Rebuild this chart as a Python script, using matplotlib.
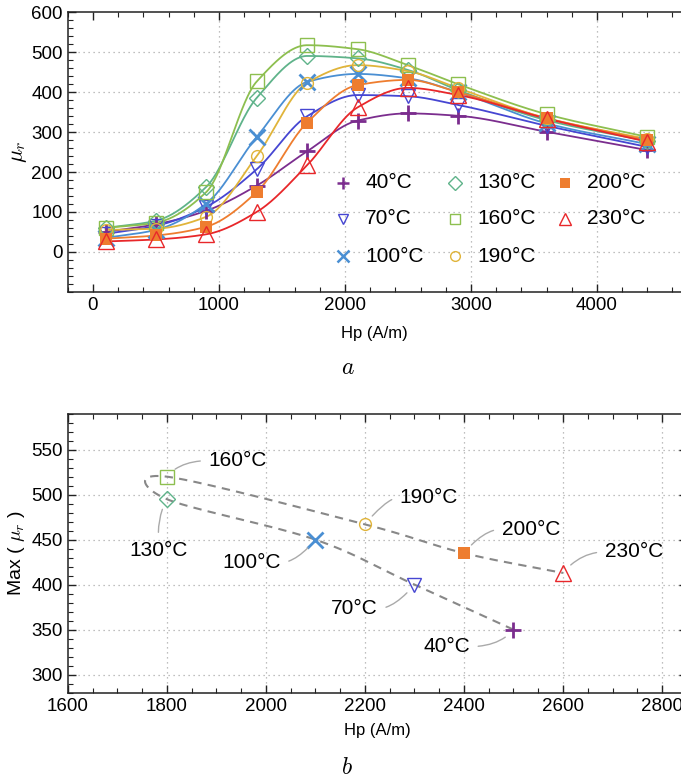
import numpy as np
import matplotlib
matplotlib.use("Agg")
import matplotlib.pyplot as plt
from matplotlib.ticker import MultipleLocator, FixedLocator

plt.rcParams["font.family"] = ["Liberation Sans", "DejaVu Sans"]
plt.rcParams["mathtext.fontset"] = "cm"

# permeability vs. pinning field, one series per temperature
hp = [100, 500, 900, 1300, 1700, 2100, 2500, 2900, 3600, 4400]
mu_40 = [50, 69, 103, 166, 252, 329, 347, 341, 301, 255]
mu_70 = [45, 65, 113, 207, 340, 393, 390, 368, 316, 263]
mu_100 = [35, 55, 121, 288, 426, 446, 435, 400, 322, 270]
mu_130 = [60, 78, 163, 386, 491, 485, 456, 405, 330, 278]
mu_160 = [60, 73, 150, 427, 518, 508, 468, 420, 345, 288]
mu_190 = [55, 58, 88, 240, 424, 468, 453, 410, 335, 283]
mu_200 = [33, 41, 63, 150, 324, 418, 431, 400, 335, 280]
mu_230 = [26, 31, 44, 100, 217, 362, 411, 393, 334, 276]

temps = ["40°C", "70°C", "100°C", "130°C", "160°C", "190°C", "200°C", "230°C"]
series = [mu_40, mu_70, mu_100, mu_130, mu_160, mu_190, mu_200, mu_230]

# peak position and peak value per temperature
peak_hp = [2500, 2300, 2100, 1800, 1800, 2200, 2400, 2600]
peak_mu = [350, 400, 450, 495, 520, 467, 435, 413]

colors = ["#7b2d8e", "#4646d2", "#4a8fd3", "#5fb38a", "#8dbf4f",
          "#e0b43a", "#ee7d2f", "#e8272a"]
markers = ["+", "v", "x", "D", "s", "o", "s", "^"]
filled = [True, False, True, False, False, False, True, False]
msizes = [11, 10, 11, 8.5, 9.5, 8.5, 8.5, 11]


def pchip(x, y, xs):
    # monotone cubic Hermite through the measured points
    x = np.asarray(x, float)
    y = np.asarray(y, float)
    h = np.diff(x)
    d = np.diff(y) / h
    m = np.zeros_like(y)
    for k in range(1, len(x) - 1):
        if d[k - 1] * d[k] > 0:
            w1 = 2 * h[k] + h[k - 1]
            w2 = h[k] + 2 * h[k - 1]
            m[k] = (w1 + w2) / (w1 / d[k - 1] + w2 / d[k])
    m[0] = d[0]
    m[-1] = d[-1]
    idx = np.clip(np.searchsorted(x, xs) - 1, 0, len(h) - 1)
    t = (xs - x[idx]) / h[idx]
    h00 = 2 * t**3 - 3 * t**2 + 1
    h10 = t**3 - 2 * t**2 + t
    h01 = -2 * t**3 + 3 * t**2
    h11 = t**3 - t**2
    return (h00 * y[idx] + h10 * h[idx] * m[idx]
            + h01 * y[idx + 1] + h11 * h[idx] * m[idx + 1])


def catmull_rom(px, py, n=60):
    px = np.asarray(px, float)
    py = np.asarray(py, float)
    P = np.column_stack([px, py])
    P = np.vstack([2 * P[0] - P[1], P, 2 * P[-1] - P[-2]])
    out = []
    t = np.linspace(0, 1, n)[:, None]
    for i in range(1, len(P) - 2):
        p0, p1 = P[i], P[i + 1]
        m0 = (P[i + 1] - P[i - 1]) / 2
        m1 = (P[i + 2] - P[i]) / 2
        seg = ((2 * t**3 - 3 * t**2 + 1) * p0 + (t**3 - 2 * t**2 + t) * m0
               + (-2 * t**3 + 3 * t**2) * p1 + (t**3 - t**2) * m1)
        out.append(seg)
    c = np.vstack(out)
    return c[:, 0], c[:, 1]


def style_axes(ax):
    ax.tick_params(which="both", direction="in", top=True, right=True,
                   labelsize=13.5, color="#222222")
    ax.tick_params(which="major", length=6, width=1.0)
    ax.tick_params(which="minor", length=3.5, width=0.8)
    for s in ax.spines.values():
        s.set_linewidth(1.1)
        s.set_color("#222222")


def draw_marker(ax, x, y, i, ms=None, **kw):
    ms = msizes[i] if ms is None else ms
    if markers[i] in ("+", "x"):
        ax.plot(x, y, ls="none", marker=markers[i], ms=ms, mew=2.0,
                color=colors[i], **kw)
    elif filled[i]:
        ax.plot(x, y, ls="none", marker=markers[i], ms=ms, mew=0,
                color=colors[i], **kw)
    else:
        ax.plot(x, y, ls="none", marker=markers[i], ms=ms, mew=1.0,
                mfc="none", mec=colors[i], **kw)


fig = plt.figure(figsize=(6.81, 7.80), dpi=100)

# ---- top panel ----
ax1 = fig.add_axes([0.0995, 0.626, 0.925, 0.358])
xs = np.linspace(hp[0], hp[-1], 600)
for i, vals in enumerate(series):
    ax1.plot(xs, pchip(hp, vals, xs), color=colors[i], lw=1.3, zorder=2)
for i, vals in enumerate(series):
    draw_marker(ax1, hp, vals, i, zorder=3)

ax1.set_xlim(-200, 4800)
ax1.set_ylim(-100, 600)
ax1.xaxis.set_major_locator(MultipleLocator(1000))
ax1.xaxis.set_minor_locator(MultipleLocator(200))
ax1.yaxis.set_major_locator(FixedLocator([0, 100, 200, 300, 400, 500, 600]))
ax1.yaxis.set_minor_locator(MultipleLocator(20))
style_axes(ax1)
for gx in [1000, 2000, 3000, 4000]:
    ax1.axvline(gx, color="#aaaaaa", lw=0.9, ls=(0, (1, 3)), zorder=1)
for gy in [0, 100, 200, 300, 400, 500]:
    ax1.axhline(gy, color="#aaaaaa", lw=0.9, ls=(0, (1, 3)), zorder=1)
ax1.set_ylabel(r"$\mu_r$", fontsize=16, labelpad=2)

# legend in three columns inside the plot
leg_cols = [343, 455, 565]
leg_rows = [183, 219, 256]
for i, t in enumerate(temps):
    col, row = divmod(i, 3)
    fx = leg_cols[col] / 681
    fy = 1 - leg_rows[row] / 780
    mk = markers[i]
    if mk in ("+", "x"):
        fig.lines.append(plt.Line2D([fx], [fy], transform=fig.transFigure,
                                    marker=mk, ms=8, mew=1.8,
                                    color=colors[i], ls="none"))
    elif filled[i]:
        fig.lines.append(plt.Line2D([fx], [fy], transform=fig.transFigure,
                                    marker=mk, ms=7, mew=0,
                                    color=colors[i], ls="none"))
    else:
        fig.lines.append(plt.Line2D([fx], [fy], transform=fig.transFigure,
                                    marker=mk, ms=7 if mk != "^" else 8,
                                    mew=1.0, mfc="none", mec=colors[i],
                                    ls="none"))
    fig.text(fx + 22 / 681, fy, t, fontsize=15, va="center", ha="left")

fig.text(374 / 681, 1 - 333 / 780, "Hp (A/m)", fontsize=12,
         ha="center", va="center")
fig.text(348 / 681, 1 - 368 / 780, r"$a$", fontsize=17,
         ha="center", va="center")

# ---- bottom panel ----
ax2 = fig.add_axes([0.0995, 0.112, 0.909, 0.3577])
cx, cy = catmull_rom(peak_hp, peak_mu)
ax2.plot(cx, cy, color="#888888", lw=1.5, ls=(0, (4, 3)), zorder=2)
for i in range(len(temps)):
    draw_marker(ax2, peak_hp[i], peak_mu[i], i, zorder=3)

ax2.set_xlim(1600, 2850)
ax2.set_ylim(280, 590)
ax2.xaxis.set_major_locator(MultipleLocator(200))
ax2.xaxis.set_minor_locator(MultipleLocator(50))
ax2.yaxis.set_major_locator(MultipleLocator(50))
ax2.yaxis.set_minor_locator(MultipleLocator(10))
style_axes(ax2)
for gx in [1800, 2000, 2200, 2400, 2600, 2800]:
    ax2.axvline(gx, color="#aaaaaa", lw=0.9, ls=(0, (1, 3)), zorder=1)
for gy in [300, 350, 400, 450, 500, 550]:
    ax2.axhline(gy, color="#aaaaaa", lw=0.9, ls=(0, (1, 3)), zorder=1)
ax2.set_ylabel(r"Max ( $\mu_r$ )", fontsize=14, labelpad=3)

# callout offsets (pixels) and which side of the label the leader leaves from
offsets = [(-67, -17), (-60, -24), (-64, -23), (-8, -51),
           (71, 16), (64, 27), (67, 24), (71, 21)]
relpos = [(1, 0.5), (1, 0.5), (1, 0.5), (0.5, 1),
          (0, 0.5), (0, 0.5), (0, 0.5), (0, 0.5)]
conn = ["angle3,angleA=0,angleB=50"] * 3 + ["arc3,rad=-0.15"] + \
       ["angle3,angleA=0,angleB=50"] * 4
for i, t in enumerate(temps):
    ax2.annotate(t, (peak_hp[i], peak_mu[i]), xytext=offsets[i],
                 textcoords="offset pixels", fontsize=15,
                 ha="center", va="center",
                 arrowprops=dict(arrowstyle="-", color="#aaaaaa", lw=1.0,
                                 relpos=relpos[i], shrinkA=4, shrinkB=8,
                                 connectionstyle=conn[i]))

fig.text(377 / 681, 1 - 730 / 780, "Hp (A/m)", fontsize=12,
         ha="center", va="center")
fig.text(347 / 681, 1 - 768 / 780, r"$b$", fontsize=17,
         ha="center", va="center")

fig.savefig("out.png", dpi=100)
